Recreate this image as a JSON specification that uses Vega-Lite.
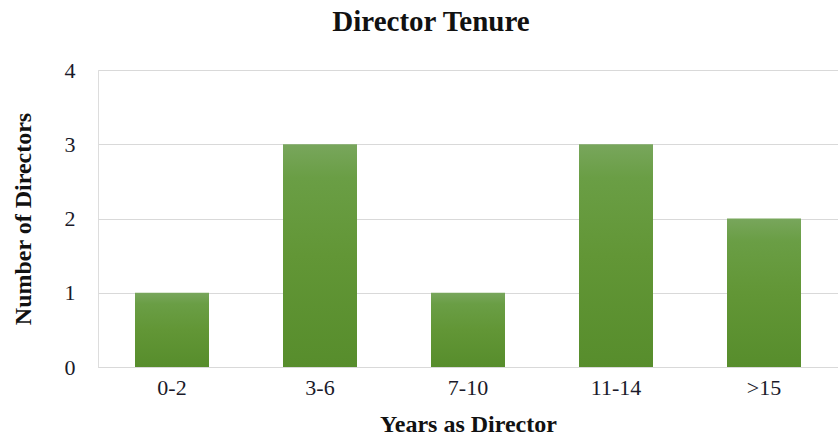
{
  "$schema": "https://vega.github.io/schema/vega-lite/v6.json",
  "autosize": {"type": "none"},
  "padding": {"left": 98, "top": 70, "right": 0, "bottom": 74},
  "width": 740,
  "height": 297,
  "background": "white",
  "title": {
    "text": "Director Tenure",
    "font": "Liberation Serif",
    "fontSize": 29,
    "fontWeight": "bold",
    "color": "#111111",
    "frame": "group",
    "anchor": "middle",
    "offset": 22,
    "dx": -37
  },
  "data": {
    "values": [
      {"years": "0-2", "count": 1},
      {"years": "3-6", "count": 3},
      {"years": "7-10", "count": 1},
      {"years": "11-14", "count": 3},
      {"years": ">15", "count": 2}
    ]
  },
  "mark": {
    "type": "bar",
    "color": {
      "gradient": "linear",
      "x1": 0, "y1": 1, "x2": 0, "y2": 0,
      "stops": [
        {"offset": 0, "color": "#578d2c"},
        {"offset": 0.5, "color": "#629636"},
        {"offset": 0.85, "color": "#6a9e45"},
        {"offset": 1, "color": "#78a65c"}
      ]
    }
  },
  "encoding": {
    "x": {
      "field": "years",
      "type": "nominal",
      "sort": null,
      "scale": {"paddingInner": 0.5, "paddingOuter": 0.25},
      "axis": {
        "title": "Years as Director",
        "titleFont": "Liberation Serif",
        "titleFontSize": 24,
        "titleFontWeight": "bold",
        "titleColor": "#111111",
        "titlePadding": 14,
        "labelFont": "Liberation Serif",
        "labelFontSize": 22,
        "labelColor": "#1a1a2a",
        "labelPadding": 10,
        "labelAngle": 0,
        "ticks": false,
        "domain": true,
        "domainColor": "#d9d9d9",
        "grid": false
      }
    },
    "y": {
      "field": "count",
      "type": "quantitative",
      "scale": {"domain": [0, 4]},
      "axis": {
        "title": "Number of Directors",
        "titleFont": "Liberation Serif",
        "titleFontSize": 24,
        "titleFontWeight": "bold",
        "titleColor": "#111111",
        "titlePadding": 29,
        "labelFont": "Liberation Serif",
        "labelFontSize": 22,
        "labelColor": "#1a1a2a",
        "labelPadding": 23,
        "labelOverlap": false,
        "values": [0, 1, 2, 3, 4],
        "ticks": false,
        "domain": false,
        "grid": true,
        "gridColor": "#d9d9d9"
      }
    }
  }
}
